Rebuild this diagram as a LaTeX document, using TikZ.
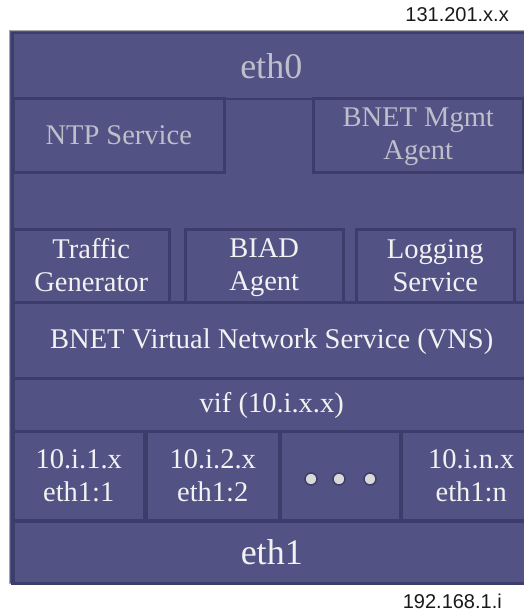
\documentclass[tikz,border=0pt]{standalone}
\usepackage{fontspec}
\setmainfont{Liberation Serif}
\newfontfamily\labelfont{Liberation Sans}
\definecolor{body}{HTML}{525285}
\definecolor{edge}{HTML}{3D3D6B}
\definecolor{dimtext}{HTML}{BFBFCB}
\definecolor{brighttext}{HTML}{F2F2F2}
\definecolor{dotfill}{HTML}{D9D9D9}
% one text line with a fixed height and depth
\newcommand{\rowtxt}[1]{#1\vrule width 0pt height 22pt depth 4pt}
\begin{document}
\begin{tikzpicture}[x=1pt,y=1pt,
  blk/.style={draw=edge, fill=body, line width=2.5pt, inner sep=0pt,
    anchor=north west, align=center},
  dim/.style={text=dimtext, font=\fontsize{28.5}{33}\selectfont},
  bright/.style={text=brighttext, font=\fontsize{28.5}{33}\selectfont},
  big/.style={font=\fontsize{36}{40}\selectfont},
  addr/.style={font=\labelfont\fontsize{20}{24}\selectfont, text=black!90, anchor=east, inner sep=0pt},
  dot/.style={circle, fill=dotfill, draw=edge, line width=1.5pt, minimum size=12pt, inner sep=0pt}]
\useasboundingbox (0,0) rectangle (524,-616);
\begin{scope}
\clip (0,0) rectangle (524,-616);
% outer housing
\draw[draw=black!35, line width=1pt, fill=body] (9.5,-30.5) rectangle (540,-583);
\node[blk, minimum width=530pt, minimum height=551pt] (frame) at (11,-31.5) {};
% eth0 layer
\node[blk, dim, big, minimum width=518pt, minimum height=66pt] (eth0) at (11,-31.5) {eth0};
\node[blk, dim, minimum width=211pt, minimum height=74pt] (ntp) at (12,-97) {\rowtxt{NTP Service}};
\node[blk, dim, minimum width=210pt, minimum height=74pt] (mgmt) at (312,-97) {\rowtxt{BNET Mgmt}\\\rowtxt{Agent}};
% services
\node[blk, bright, minimum width=156pt, minimum height=73pt] (traffic) at (12,-228) {\rowtxt{Traffic}\\\rowtxt{Generator}};
\node[blk, bright, minimum width=158pt, minimum height=73pt] (biad) at (184,-228) {\rowtxt{BIAD}\\\rowtxt{Agent}};
\node[blk, bright, minimum width=158pt, minimum height=73pt] (logging) at (355,-228) {\rowtxt{Logging}\\\rowtxt{Service}};
\node[blk, bright, minimum width=517pt, minimum height=76pt] (vns) at (12,-301) {\rowtxt{BNET Virtual Network Service (VNS)}};
\node[blk, bright, minimum width=517pt, minimum height=53pt] (vif) at (12,-377) {\rowtxt{vif (10.i.x.x)}};
% virtual interfaces
\node[blk, bright, minimum width=131pt, minimum height=89pt] (p1) at (12,-430) {\rowtxt{10.i.1.x}\\\rowtxt{eth1:1}};
\node[blk, bright, minimum width=133pt, minimum height=89pt] (p2) at (145,-430) {\rowtxt{10.i.2.x}\\\rowtxt{eth1:2}};
\node[blk, minimum width=120pt, minimum height=89pt] (pdots) at (279,-430) {};
\node[blk, bright, minimum width=140pt, minimum height=89pt] (pn) at (400,-430) {\rowtxt{10.i.n.x}\\\rowtxt{eth1:n}};
\node[dot] (d1) at (311,-479) {};
\node[dot] (d2) at (339,-479) {};
\node[dot] (d3) at (370,-479) {};
% eth1 layer
\node[blk, bright, big, minimum width=517pt, minimum height=62pt] (eth1) at (12,-520) {eth1};
\end{scope}
% addresses
\node[addr] (addr0) at (509,-15) {131.201.x.x};
\node[addr] (addr1) at (502,-601) {192.168.1.i};
\end{tikzpicture}
\end{document}
